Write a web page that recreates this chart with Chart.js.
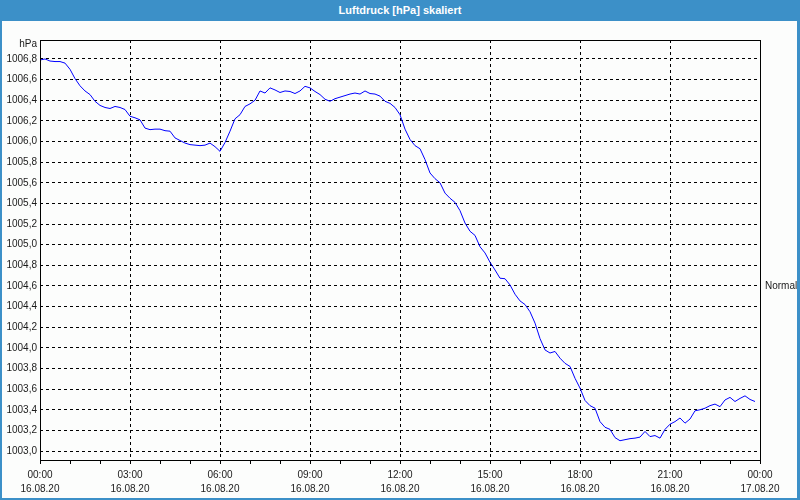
<!DOCTYPE html>
<html>
<head>
<meta charset="utf-8">
<script src="https://cdn.jsdelivr.net/npm/chart.js@4"></script>
<style>
  html, body { margin: 0; padding: 0; }
  body { width: 800px; height: 500px; background: #3c90c8; position: relative; overflow: hidden; font-family: "Liberation Sans", Arial, sans-serif; }
  #title { position: absolute; left: 0; top: 0; width: 800px; height: 21px; line-height: 21px; text-align: center; color: #fff; font-weight: bold; font-size: 11px; }
  #wrap { position: absolute; left: 2px; top: 21px; width: 795px; height: 477px; background: #fcfdfc; }
</style>
</head>
<body>
<div id="title">Luftdruck [hPa] skaliert</div>
<div id="wrap"><canvas id="c" width="795" height="477"></canvas></div>
<script>
// ---- data ----
const stepMinutes = 10; // one reading every 10 minutes, starting 16.08.20 00:00
const pressure = [
  1006.79, 1006.80, 1006.78, 1006.775, 1006.775, 1006.76, 1006.70, 1006.61, 1006.54, 1006.49,
  1006.455, 1006.39, 1006.35, 1006.33, 1006.32, 1006.34, 1006.33, 1006.31, 1006.245, 1006.23,
  1006.21, 1006.13, 1006.115, 1006.12, 1006.12, 1006.105, 1006.10, 1006.035, 1006.01, 1005.985,
  1005.97, 1005.965, 1005.96, 1005.965, 1005.985, 1005.95, 1005.905, 1005.99, 1006.10, 1006.22,
  1006.26, 1006.34, 1006.365, 1006.40, 1006.49, 1006.47, 1006.52, 1006.50, 1006.475, 1006.49,
  1006.485, 1006.465, 1006.49, 1006.535, 1006.52, 1006.485, 1006.455, 1006.41, 1006.39, 1006.415,
  1006.43, 1006.445, 1006.46, 1006.47, 1006.46, 1006.49, 1006.465, 1006.46, 1006.44, 1006.39,
  1006.37, 1006.33, 1006.26, 1006.12, 1006.02, 1005.96, 1005.93, 1005.825, 1005.695, 1005.64,
  1005.60, 1005.50, 1005.45, 1005.41, 1005.33, 1005.21, 1005.13, 1005.09, 1004.98, 1004.92,
  1004.83, 1004.755, 1004.675, 1004.67, 1004.61, 1004.52, 1004.455, 1004.42, 1004.35, 1004.24,
  1004.09, 1003.98, 1003.95, 1003.965, 1003.90, 1003.85, 1003.82, 1003.705, 1003.61, 1003.49,
  1003.44, 1003.415, 1003.285, 1003.23, 1003.21, 1003.13, 1003.10, 1003.11, 1003.12, 1003.125,
  1003.135, 1003.19, 1003.14, 1003.15, 1003.125, 1003.21, 1003.26, 1003.285, 1003.32, 1003.27,
  1003.31, 1003.39, 1003.40, 1003.415, 1003.44, 1003.455, 1003.43, 1003.495, 1003.52, 1003.48,
  1003.51, 1003.535, 1003.50, 1003.48
];
const xTickHours = [0, 3, 6, 9, 12, 15, 18, 21, 24];
const xTickTimes = ['00:00', '03:00', '06:00', '09:00', '12:00', '15:00', '18:00', '21:00', '00:00'];
const xTickDates = ['16.08.20', '16.08.20', '16.08.20', '16.08.20', '16.08.20', '16.08.20', '16.08.20', '16.08.20', '17.08.20'];
const yTicks = [1003.0, 1003.2, 1003.4, 1003.6, 1003.8, 1004.0, 1004.2, 1004.4, 1004.6, 1004.8,
  1005.0, 1005.2, 1005.4, 1005.6, 1005.8, 1006.0, 1006.2, 1006.4, 1006.6, 1006.8];
const yMin = 1002.913, yMax = 1006.984;
const normalValue = 1004.6;
const normalLabel = 'Normal';
const unitLabel = 'hPa';

const points = pressure.map((v, i) => ({ x: i * stepMinutes / 60, y: v }));

const FONT = { family: '"Liberation Sans", Arial, sans-serif', size: 10 };
const TXT = '#1a1a1a';

const framePlugin = {
  id: 'frame',
  afterDraw(chart) {
    const { ctx, chartArea: a } = chart;
    ctx.save();
    ctx.strokeStyle = '#000';
    ctx.lineWidth = 1;
    ctx.setLineDash([]);
    ctx.strokeRect(Math.round(a.left) + 0.5, Math.round(a.top) + 0.5, Math.round(a.right - a.left), Math.round(a.bottom - a.top));
    ctx.fillStyle = TXT;
    ctx.font = '10px "Liberation Sans", Arial, sans-serif';
    ctx.textAlign = 'right';
    ctx.textBaseline = 'middle';
    ctx.fillText(unitLabel, a.left - 3, a.top + 4);
    ctx.restore();
  }
};

new Chart(document.getElementById('c'), {
  type: 'line',
  data: {
    datasets: [{
      data: points,
      borderColor: '#0000ff',
      borderWidth: 1,
      pointRadius: 0,
      tension: 0,
      fill: false
    }]
  },
  options: {
    responsive: false,
    animation: false,
    devicePixelRatio: 1,
    layout: { padding: { top: 19, left: 0, right: 0, bottom: 0 } },
    plugins: { legend: { display: false }, tooltip: { enabled: false }, title: { display: false } },
    scales: {
      x: {
        type: 'linear',
        min: 0, max: 24,
        afterBuildTicks(scale) {
          const t = [];
          for (let h = 0; h <= 24; h++) t.push({ value: h });
          scale.ticks = t;
        },
        afterFit(scale) { scale.height = 38; },
        ticks: {
          autoSkip: false, maxRotation: 0, minRotation: 0,
          padding: 4,
          color: TXT,
          font: { ...FONT, lineHeight: '14px' },
          callback(v) {
            const i = xTickHours.indexOf(v);
            return i >= 0 ? [xTickTimes[i], xTickDates[i]] : '';
          }
        },
        grid: {
          drawOnChartArea: true,
          drawTicks: true,
          tickLength: 4,
          tickColor: '#000',
          tickBorderDash: [],
          lineWidth: 1,
          color(ctx) {
            const v = ctx.tick && ctx.tick.value;
            return (v % 3 === 0 && v > 0 && v < 24) ? '#000' : 'rgba(0,0,0,0)';
          }
        },
        border: { display: false, dash: [3, 3] }
      },
      y: {
        type: 'linear',
        position: 'left',
        min: yMin, max: yMax,
        afterBuildTicks(scale) { scale.ticks = yTicks.map(v => ({ value: v })); },
        afterFit(scale) { scale.width = 38; },
        ticks: {
          padding: 3,
          color: TXT,
          font: FONT,
          callback(v) { return v.toFixed(1).replace('.', ','); }
        },
        grid: { drawTicks: false, color: '#000', lineWidth: 1 },
        border: { display: false, dash: [3, 3] }
      },
      y2: {
        type: 'linear',
        position: 'right',
        min: yMin, max: yMax,
        afterBuildTicks(scale) { scale.ticks = [{ value: normalValue }]; },
        afterFit(scale) { scale.width = 37; },
        ticks: {
          padding: 5,
          color: TXT,
          font: FONT,
          callback() { return normalLabel; }
        },
        grid: { display: false, drawTicks: false },
        border: { display: false }
      }
    }
  },
  plugins: [framePlugin]
});
</script>
</body>
</html>
